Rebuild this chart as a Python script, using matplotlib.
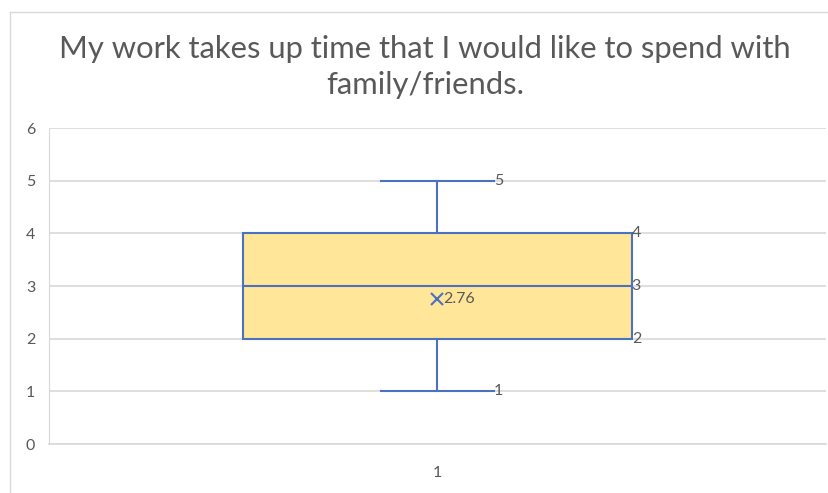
import matplotlib.pyplot as plt
from matplotlib.lines import Line2D

# values
title = "My work takes up time that I would like to spend with\nfamily/friends."
category = "1"
whisker_low = 1
q1 = 2
median = 3
q3 = 4
whisker_high = 5
mean = 2.76
y_ticks = [0, 1, 2, 3, 4, 5, 6]

box_fill = "#FFE699"
box_edge = "#4A72C0"
grid_col = "#D9D9D9"
text_col = "#595959"

plt.rcParams["font.family"] = ["Lato", "DejaVu Sans"]

fig = plt.figure(figsize=(8.29, 4.93), dpi=100)
ax = fig.add_axes([49 / 829, 1 - 444 / 493, (826 - 49) / 829, (444 - 128) / 493])

stats = [{
    "label": category,
    "whislo": whisker_low,
    "q1": q1,
    "med": median,
    "q3": q3,
    "whishi": whisker_high,
    "mean": mean,
    "fliers": [],
}]
ax.bxp(stats, positions=[1], widths=[0.5], showmeans=True, patch_artist=True,
       boxprops=dict(facecolor=box_fill, edgecolor=box_edge, linewidth=1.5),
       medianprops=dict(color=box_edge, linewidth=1.5),
       whiskerprops=dict(color=box_edge, linewidth=1.5),
       capprops=dict(color=box_edge, linewidth=1.5),
       meanprops=dict(marker="x", markeredgecolor=box_edge, markersize=9,
                      markeredgewidth=1.5),
       capwidths=[0.145])

ax.set_xlim(0.5, 1.5)
ax.set_ylim(0, 6)
ax.set_yticks(y_ticks)
ax.yaxis.grid(True, color=grid_col, linewidth=1.2)
ax.set_axisbelow(True)
ax.tick_params(axis="both", length=0, colors=text_col, labelsize=11.5)
ax.tick_params(axis="y", pad=10)
ax.tick_params(axis="x", pad=16)
for s in ["top", "right"]:
    ax.spines[s].set_visible(False)
ax.spines["left"].set_color(grid_col)
ax.spines["bottom"].set_color(grid_col)
ax.spines["bottom"].set_linewidth(1.2)

# data labels
ax.text(1 + 0.0725, whisker_high, str(whisker_high), color=text_col, fontsize=11.5,
        va="center", ha="left")
ax.text(1 + 0.0725, whisker_low, str(whisker_low), color=text_col, fontsize=11.5,
        va="center", ha="left")
for v in [q3, median, q1]:
    ax.text(1.25, v, str(v), color=text_col, fontsize=11.5, va="center", ha="left")
ax.text(1.007, mean, f"{mean}", color=text_col, fontsize=11.5, va="center", ha="left")

fig.text(0.513, 0.864, title, ha="center", va="center", fontsize=22.3,
         color="#595959", linespacing=1.38)

# outer chart frame
fig.add_artist(Line2D([10 / 829, 1], [1 - 12 / 493] * 2, color=grid_col,
                      linewidth=1, transform=fig.transFigure))
fig.add_artist(Line2D([10 / 829] * 2, [0, 1 - 12 / 493], color=grid_col,
                      linewidth=1, transform=fig.transFigure))

plt.savefig("out.png", dpi=100)
